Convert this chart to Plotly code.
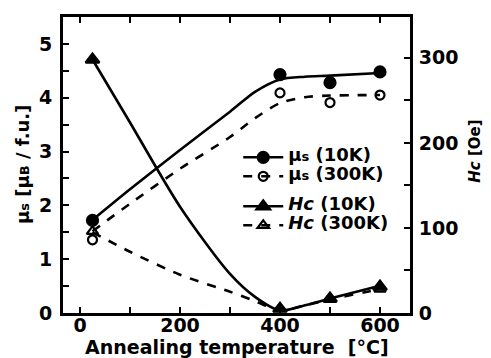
import plotly.graph_objects as go

# ---- measured data ----
temperature = [25, 400, 500, 600]
mu_s_10K = [1.72, 4.43, 4.28, 4.48]
mu_s_300K = [1.36, 4.09, 3.91, 4.05]
hc_10K = [298, 5, 17, 31]
hc_300K = [96, 5, 16, 28]

# ---- guide curves ----
fit_temperature = [25, 100, 200, 300, 350, 400, 450, 500, 600]
mu_s_10K_fit = [1.73, 2.30, 3.03, 3.74, 4.11, 4.34, 4.39, 4.41, 4.46]
mu_s_300K_fit = [1.52, 2.03, 2.68, 3.27, 3.62, 3.90, 4.01, 4.04, 4.05]
hc_10K_fit = [298, 224, 125, 46, 19, 3, 9, 17, 32]
hc_300K_fit = [95, 72, 45, 25, 14, 3, 9, 16, 28]

x_ticks = [0, 200, 400, 600]
left_ticks = [0, 1, 2, 3, 4, 5]
right_ticks = [0, 100, 200, 300]

FONT = "DejaVu Sans"
LW = 2.6
TICK = 19
LEG = 18

fig = go.Figure()

def guide(x, y, dash, yaxis):
    fig.add_trace(go.Scatter(x=x, y=y, mode="lines", yaxis=yaxis,
                             line=dict(color="black", width=LW, dash=dash, shape="spline", smoothing=0.8),
                             showlegend=False, hoverinfo="skip"))

def marks(x, y, symbol, size, yaxis):
    fig.add_trace(go.Scatter(x=x, y=y, mode="markers", yaxis=yaxis, cliponaxis=False,
                             marker=dict(symbol=symbol, size=size, color="black",
                                         line=dict(color="black", width=2.2)),
                             showlegend=False))

guide(fit_temperature, mu_s_10K_fit, "solid", "y")
guide(fit_temperature, mu_s_300K_fit, "dash", "y")
guide(fit_temperature, hc_10K_fit, "solid", "y2")
guide(fit_temperature, hc_300K_fit, "dash", "y2")
marks(temperature, mu_s_10K, "circle", 11, "y")
marks(temperature, mu_s_300K, "circle-open", 9, "y")
marks(temperature, hc_10K, "triangle-up", 12, "y2")
marks(temperature, hc_300K, "triangle-up-open", 10, "y2")

mu = "μ<span style='font-size:13px'>s</span>"
legend_items = [
    (mu + " (10K)", "solid", "circle", 11, "mu"),
    (mu + " (300K)", "dash", "circle-open", 9, "mu"),
    ("<i>Hc</i> (10K)", "solid", "triangle-up", 12, "hc"),
    ("<i>Hc</i> (300K)", "dash", "triangle-up-open", 10, "hc"),
]
for name, dash, sym, size, grp in legend_items:
    fig.add_trace(go.Scatter(
        x=[None], y=[None], mode="lines+markers",
        name="<span style='font-size:%dpx'>%s</span>" % (LEG, name),
        legendgroup=grp,
        line=dict(color="black", width=LW, dash=dash),
        marker=dict(symbol=sym, size=size, color="black", line=dict(color="black", width=2.2))))

axis_common = dict(showline=True, linecolor="black", linewidth=3, ticks="inside",
                   tickcolor="black", tickwidth=2, ticklen=6, showgrid=False, zeroline=False,
                   tickfont=dict(family=FONT, size=TICK, color="black", weight="bold"))

fig.update_layout(
    width=483, height=350,
    margin=dict(l=55, r=81, t=6, b=45),
    paper_bgcolor="white", plot_bgcolor="white",
    font=dict(family=FONT, color="black"),
    xaxis=dict(range=[-34, 660], tickvals=x_ticks, mirror="ticks", ticklabelstandoff=-7,
               minor=dict(dtick=100, tick0=0, ticks="inside", ticklen=6, tickwidth=2, tickcolor="black"),
               **axis_common),
    yaxis=dict(range=[0, 5.5], tickvals=left_ticks, ticklabelstandoff=4,
               minor=dict(dtick=0.5, tick0=0, ticks="inside", ticklen=6, tickwidth=2, tickcolor="black"),
               **axis_common),
    yaxis2=dict(range=[0, 348], tickvals=right_ticks, overlaying="y", side="right",
                ticklabelstandoff=2,
                minor=dict(dtick=50, tick0=0, ticks="inside", ticklen=6, tickwidth=2, tickcolor="black"),
                **axis_common),
    legend=dict(x=0.505, y=0.575, xanchor="left", yanchor="top", bgcolor="rgba(0,0,0,0)",
                font=dict(family=FONT, size=10, color="black", weight="bold"),
                traceorder="grouped", tracegroupgap=11, itemwidth=40),
    annotations=[
        dict(text="Annealing temperature  [°C]", xref="paper", yref="paper", x=0.5, y=0,
             yshift=-34, yanchor="middle", showarrow=False,
             font=dict(family=FONT, size=19, weight="bold", color="black")),
        dict(text="μ<span style='font-size:13px'>s</span> [μ<span style='font-size:13px'>B</span> / f.u.]",
             xref="paper", yref="paper", x=0, y=0.5, xshift=-41, textangle=-90,
             xanchor="center", yanchor="middle", showarrow=False,
             font=dict(family=FONT, size=18, weight="bold", color="black")),
        dict(text="<i>Hc</i> [Oe]", xref="paper", yref="paper", x=1, y=0.545, xshift=65,
             textangle=-90, xanchor="center", yanchor="middle", showarrow=False,
             font=dict(family=FONT, size=15, weight="bold", color="black")),
    ],
)

fig.write_html("out.html")
